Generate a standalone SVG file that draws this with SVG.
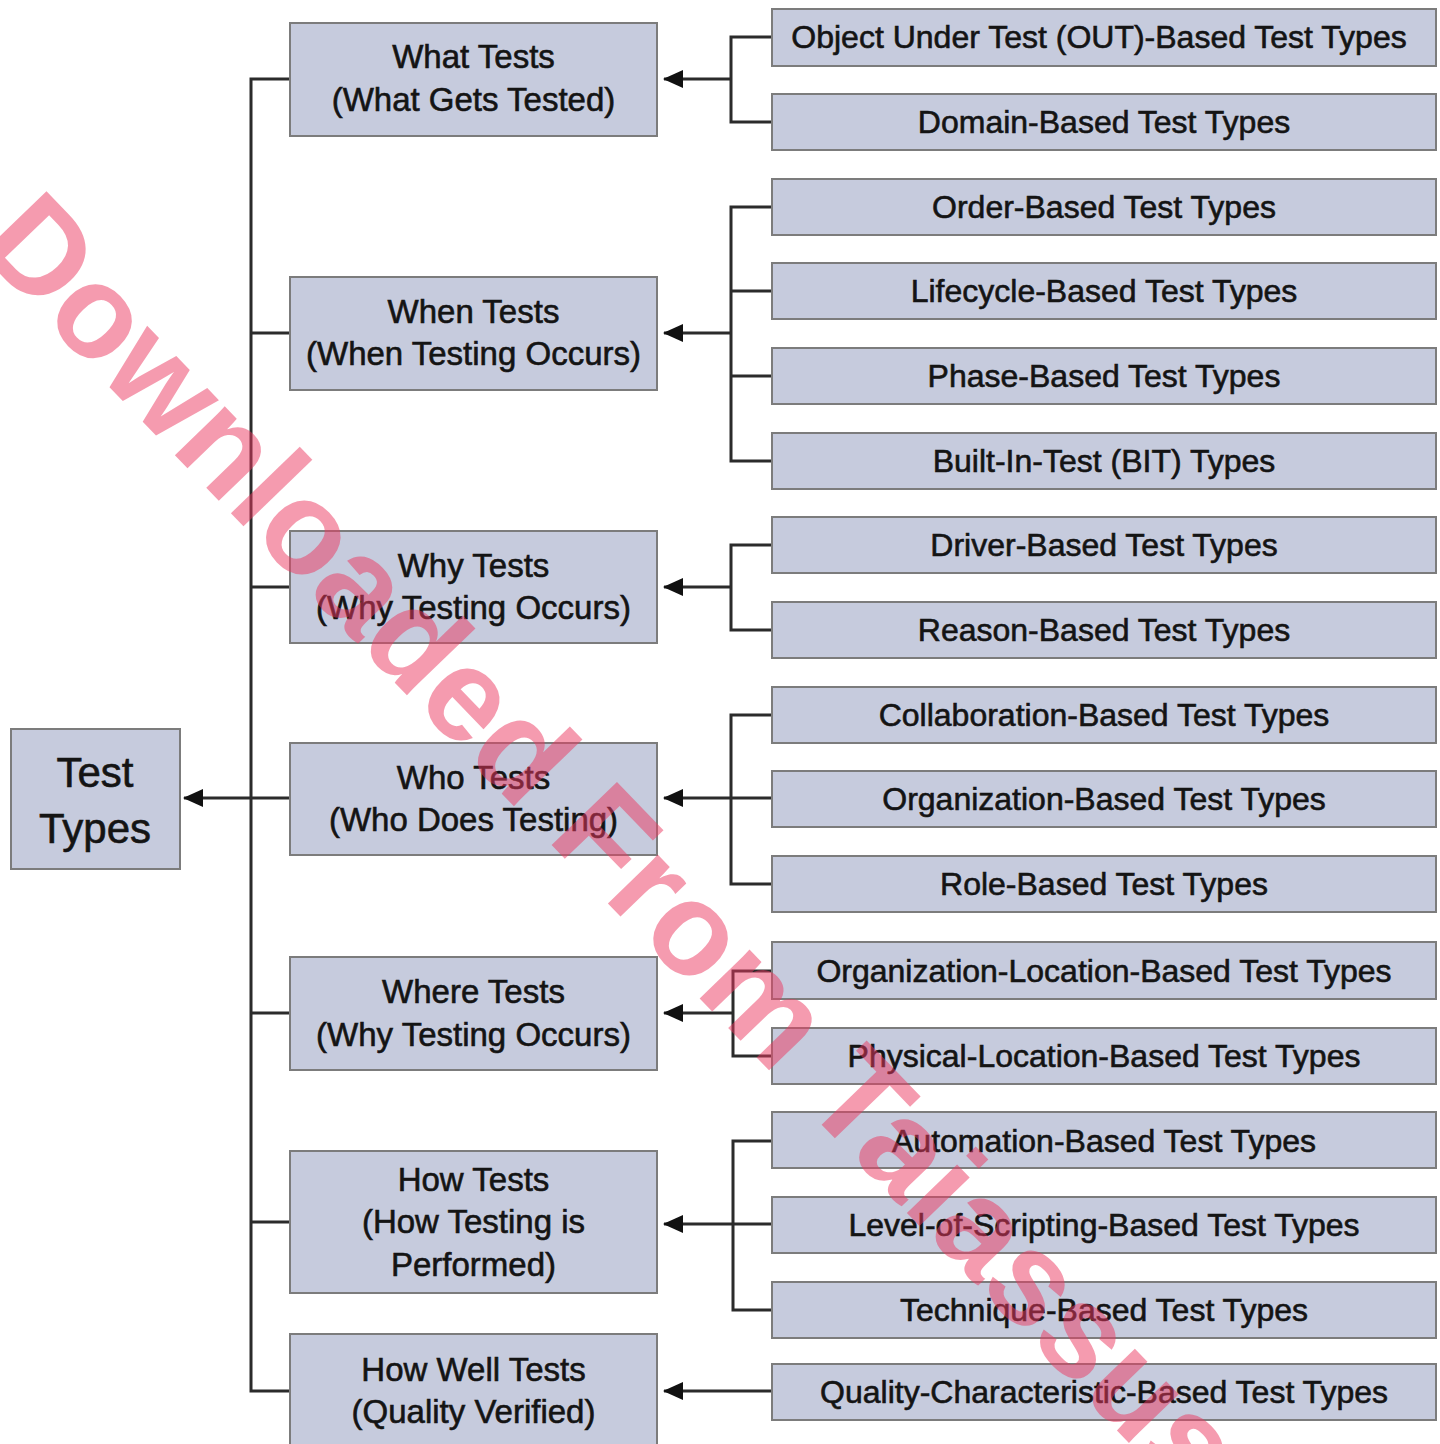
<svg xmlns="http://www.w3.org/2000/svg" width="1440" height="1444" viewBox="0 0 1440 1444">
  <defs>
    <style>
      .box { fill: #c6cbdd; stroke: #7c7c7c; stroke-width: 2; }
      .lbl { font-family: "Liberation Sans", Arial, sans-serif; fill: #141414; stroke: #141414; stroke-width: 0.6; text-anchor: middle; }
      .mid { font-size: 33px; }
      .leaf { font-size: 32px; }
      .root { font-size: 42px; }
      .wire { fill: none; stroke: #2b2b2b; stroke-width: 3; }
      .mark { font-family: "Liberation Sans", Arial, sans-serif; font-weight: bold; font-size: 132px; fill: #eb375f; fill-opacity: 0.5; }
    </style>
    <!-- filled arrowhead, tip at the end of the line -->
    <marker id="arrow" markerUnits="userSpaceOnUse" markerWidth="20" markerHeight="20" viewBox="0 0 20 20" refX="19" refY="10" orient="auto">
      <path d="M0,1 L20,10 L0,19 Z" fill="#111"/>
    </marker>
  </defs>
  <rect width="1440" height="1444" fill="#ffffff"/>

  <!-- connectors -->
  <g id="connectors" class="wire">
    <!-- trunk from the category boxes to the root -->
    <path d="M290,79 H251 V1391 H290"/>
    <path d="M290,333 H251 M290,587 H251 M290,1013 H251 M290,1222 H251"/>
    <line x1="290" y1="798" x2="184" y2="798" marker-end="url(#arrow)"/>
    <!-- What -->
    <path d="M772,37 H731 V122 H772"/>
    <line x1="731" y1="79" x2="664" y2="79" marker-end="url(#arrow)"/>
    <!-- When -->
    <path d="M772,207 H731 V461 H772 M772,291 H731 M772,376 H731"/>
    <line x1="731" y1="333" x2="664" y2="333" marker-end="url(#arrow)"/>
    <!-- Why -->
    <path d="M772,545 H731 V630 H772"/>
    <line x1="731" y1="587" x2="664" y2="587" marker-end="url(#arrow)"/>
    <!-- Who -->
    <path d="M772,715 H731 V884 H772"/>
    <line x1="772" y1="798" x2="664" y2="798" marker-end="url(#arrow)"/>
    <!-- Where -->
    <path d="M772,971 H733 V1056 H772"/>
    <line x1="733" y1="1013" x2="664" y2="1013" marker-end="url(#arrow)"/>
    <!-- How -->
    <path d="M772,1141 H733 V1310 H772"/>
    <line x1="772" y1="1224" x2="664" y2="1224" marker-end="url(#arrow)"/>
    <!-- How Well -->
    <line x1="772" y1="1391" x2="664" y2="1391" marker-end="url(#arrow)"/>
  </g>

  <!-- root -->
  <g id="test-types">
    <rect class="box" x="11" y="729" width="169" height="140"/>
    <text class="lbl root" x="95" y="787">Test</text>
    <text class="lbl root" x="95" y="843">Types</text>
  </g>

  <!-- category boxes -->
  <g id="what-tests">
    <rect class="box" x="290" y="23" width="367" height="113"/>
    <text class="lbl mid" x="473.5" y="68">What Tests</text>
    <text class="lbl mid" x="473.5" y="111">(What Gets Tested)</text>
  </g>
  <g id="when-tests">
    <rect class="box" x="290" y="277" width="367" height="113"/>
    <text class="lbl mid" x="473.5" y="323">When Tests</text>
    <text class="lbl mid" x="473.5" y="365">(When Testing Occurs)</text>
  </g>
  <g id="why-tests">
    <rect class="box" x="290" y="531" width="367" height="112"/>
    <text class="lbl mid" x="473.5" y="577">Why Tests</text>
    <text class="lbl mid" x="473.5" y="619">(Why Testing Occurs)</text>
  </g>
  <g id="who-tests">
    <rect class="box" x="290" y="743" width="367" height="112"/>
    <text class="lbl mid" x="473.5" y="789">Who Tests</text>
    <text class="lbl mid" x="473.5" y="831">(Who Does Testing)</text>
  </g>
  <g id="where-tests">
    <rect class="box" x="290" y="957" width="367" height="113"/>
    <text class="lbl mid" x="473.5" y="1003">Where Tests</text>
    <text class="lbl mid" x="473.5" y="1046">(Why Testing Occurs)</text>
  </g>
  <g id="how-tests">
    <rect class="box" x="290" y="1151" width="367" height="142"/>
    <text class="lbl mid" x="473.5" y="1191">How Tests</text>
    <text class="lbl mid" x="473.5" y="1233">(How Testing is</text>
    <text class="lbl mid" x="473.5" y="1276">Performed)</text>
  </g>
  <g id="how-well-tests">
    <rect class="box" x="290" y="1334" width="367" height="130"/>
    <text class="lbl mid" x="473.5" y="1381">How Well Tests</text>
    <text class="lbl mid" x="473.5" y="1423">(Quality Verified)</text>
  </g>

  <!-- leaf test-type boxes -->
  <g id="out-based"><rect class="box" x="772" y="9" width="664" height="57"/><text class="lbl leaf" x="1099" y="48">Object Under Test (OUT)-Based Test Types</text></g>
  <g id="domain-based"><rect class="box" x="772" y="94" width="664" height="56"/><text class="lbl leaf" x="1104" y="133">Domain-Based Test Types</text></g>
  <g id="order-based"><rect class="box" x="772" y="179" width="664" height="56"/><text class="lbl leaf" x="1104" y="218">Order-Based Test Types</text></g>
  <g id="lifecycle-based"><rect class="box" x="772" y="263" width="664" height="56"/><text class="lbl leaf" x="1104" y="302">Lifecycle-Based Test Types</text></g>
  <g id="phase-based"><rect class="box" x="772" y="348" width="664" height="56"/><text class="lbl leaf" x="1104" y="387">Phase-Based Test Types</text></g>
  <g id="bit-types"><rect class="box" x="772" y="433" width="664" height="56"/><text class="lbl leaf" x="1104" y="472">Built-In-Test (BIT) Types</text></g>
  <g id="driver-based"><rect class="box" x="772" y="517" width="664" height="56"/><text class="lbl leaf" x="1104" y="556">Driver-Based Test Types</text></g>
  <g id="reason-based"><rect class="box" x="772" y="602" width="664" height="56"/><text class="lbl leaf" x="1104" y="641">Reason-Based Test Types</text></g>
  <g id="collaboration-based"><rect class="box" x="772" y="687" width="664" height="56"/><text class="lbl leaf" x="1104" y="726">Collaboration-Based Test Types</text></g>
  <g id="organization-based"><rect class="box" x="772" y="771" width="664" height="56"/><text class="lbl leaf" x="1104" y="810">Organization-Based Test Types</text></g>
  <g id="role-based"><rect class="box" x="772" y="856" width="664" height="56"/><text class="lbl leaf" x="1104" y="895">Role-Based Test Types</text></g>
  <g id="org-location-based"><rect class="box" x="772" y="942" width="664" height="57"/><text class="lbl leaf" x="1104" y="982">Organization-Location-Based Test Types</text></g>
  <g id="physical-location-based"><rect class="box" x="772" y="1028" width="664" height="56"/><text class="lbl leaf" x="1104" y="1067">Physical-Location-Based Test Types</text></g>
  <g id="automation-based"><rect class="box" x="772" y="1112" width="664" height="56"/><text class="lbl leaf" x="1104" y="1152">Automation-Based Test Types</text></g>
  <g id="scripting-based"><rect class="box" x="772" y="1197" width="664" height="56"/><text class="lbl leaf" x="1104" y="1236">Level-of-Scripting-Based Test Types</text></g>
  <g id="technique-based"><rect class="box" x="772" y="1282" width="664" height="56"/><text class="lbl leaf" x="1104" y="1321">Technique-Based Test Types</text></g>
  <g id="quality-based"><rect class="box" x="772" y="1364" width="664" height="56"/><text class="lbl leaf" x="1104" y="1403">Quality-Characteristic-Based Test Types</text></g>

  <!-- diagonal overlay text -->
  <text class="mark" x="-25" y="248" transform="rotate(46 -25 248)">Downloaded From Taiassus</text>
</svg>
